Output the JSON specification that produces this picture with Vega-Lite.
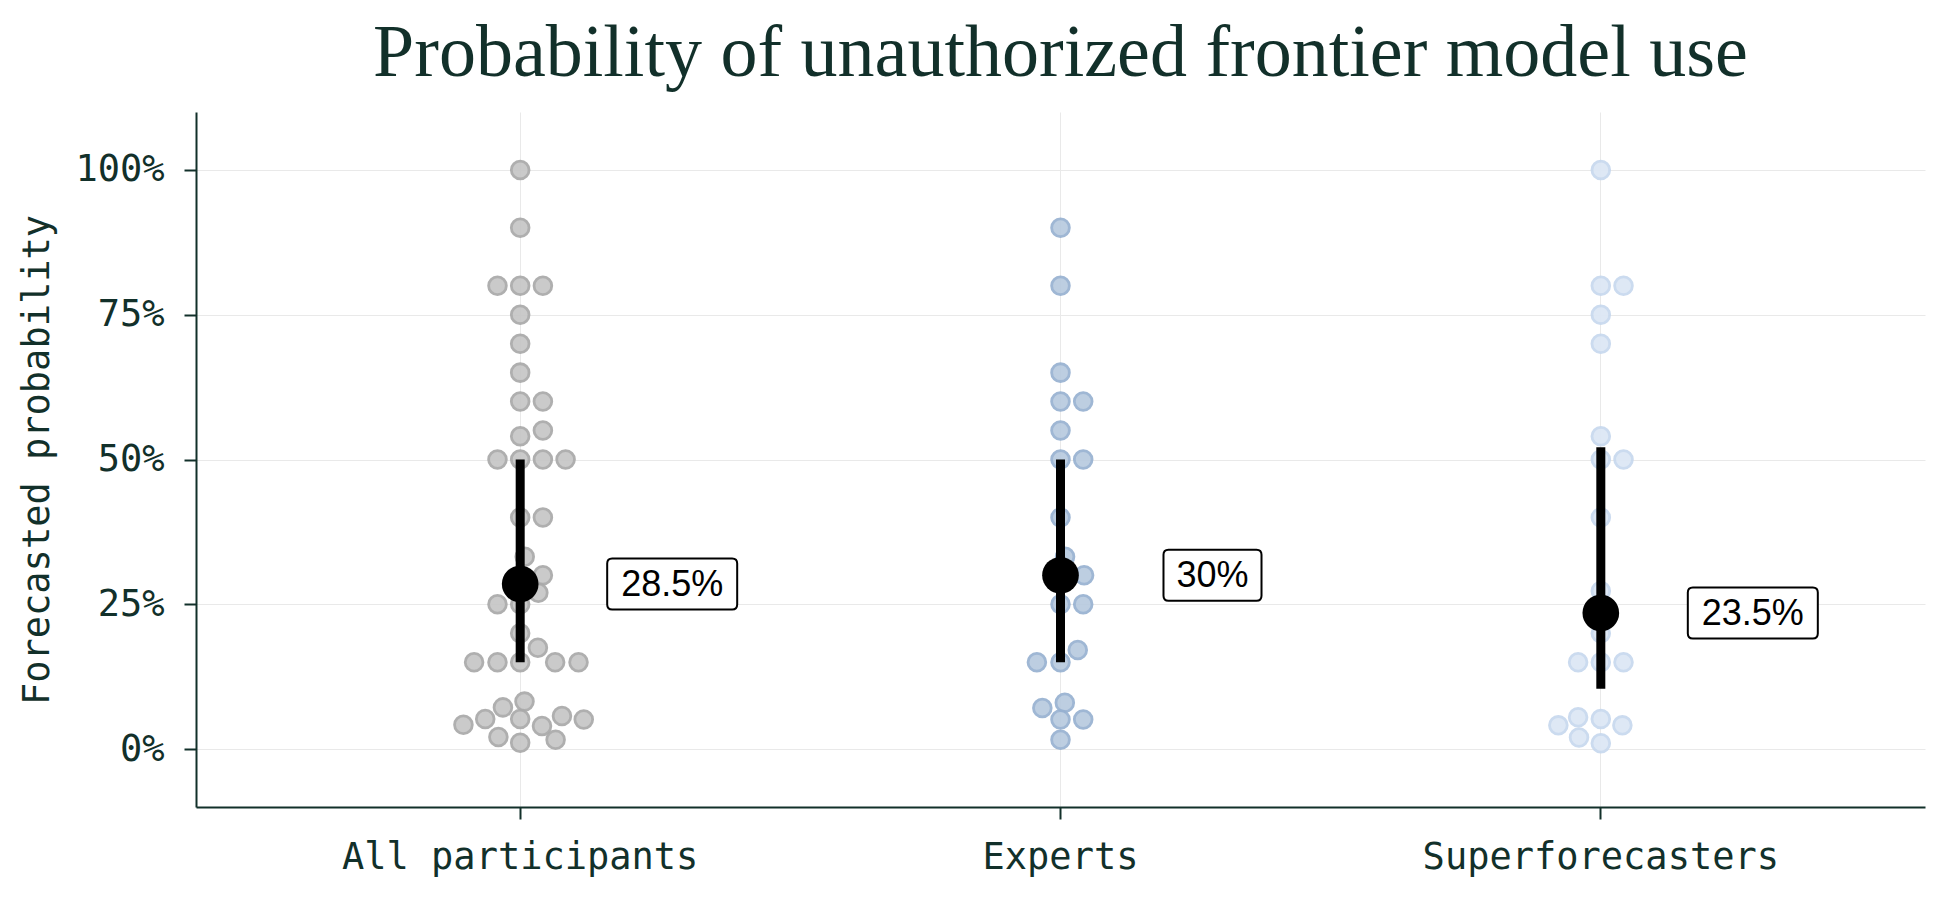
{
  "$schema": "https://vega.github.io/schema/vega-lite/v6.json",
  "width": 1729,
  "height": 695,
  "autosize": {"type": "none"},
  "padding": {"left": 196, "top": 112, "right": 25, "bottom": 93},
  "background": "white",
  "title": {
    "text": "Probability of unauthorized frontier model use",
    "font": "Liberation Serif",
    "fontSize": 74,
    "fontWeight": "normal",
    "color": "#12302a",
    "anchor": "middle",
    "offset": 20
  },
  "config": {"view": {"stroke": null}},
  "datasets": {
    "forecasts": [
      {"group": "All participants", "p": 1.00, "jitter": 0},
      {"group": "All participants", "p": 0.90, "jitter": 0},
      {"group": "All participants", "p": 0.80, "jitter": -1},
      {"group": "All participants", "p": 0.80, "jitter": 0},
      {"group": "All participants", "p": 0.80, "jitter": 1},
      {"group": "All participants", "p": 0.75, "jitter": 0},
      {"group": "All participants", "p": 0.70, "jitter": 0},
      {"group": "All participants", "p": 0.65, "jitter": 0},
      {"group": "All participants", "p": 0.60, "jitter": 0},
      {"group": "All participants", "p": 0.60, "jitter": 1},
      {"group": "All participants", "p": 0.55, "jitter": 1},
      {"group": "All participants", "p": 0.54, "jitter": 0},
      {"group": "All participants", "p": 0.50, "jitter": -1},
      {"group": "All participants", "p": 0.50, "jitter": 0},
      {"group": "All participants", "p": 0.50, "jitter": 1},
      {"group": "All participants", "p": 0.50, "jitter": 2},
      {"group": "All participants", "p": 0.40, "jitter": 0},
      {"group": "All participants", "p": 0.40, "jitter": 1},
      {"group": "All participants", "p": 0.332, "jitter": 0.2},
      {"group": "All participants", "p": 0.30, "jitter": 1},
      {"group": "All participants", "p": 0.27, "jitter": 0.8},
      {"group": "All participants", "p": 0.25, "jitter": -1},
      {"group": "All participants", "p": 0.25, "jitter": 0},
      {"group": "All participants", "p": 0.20, "jitter": 0},
      {"group": "All participants", "p": 0.175, "jitter": 0.78},
      {"group": "All participants", "p": 0.15, "jitter": -2.03},
      {"group": "All participants", "p": 0.15, "jitter": -1},
      {"group": "All participants", "p": 0.15, "jitter": 0},
      {"group": "All participants", "p": 0.15, "jitter": 1.54},
      {"group": "All participants", "p": 0.15, "jitter": 2.57},
      {"group": "All participants", "p": 0.082, "jitter": 0.19},
      {"group": "All participants", "p": 0.072, "jitter": -0.76},
      {"group": "All participants", "p": 0.052, "jitter": -1.54},
      {"group": "All participants", "p": 0.052, "jitter": 0},
      {"group": "All participants", "p": 0.057, "jitter": 1.84},
      {"group": "All participants", "p": 0.051, "jitter": 2.8},
      {"group": "All participants", "p": 0.042, "jitter": -2.5},
      {"group": "All participants", "p": 0.040, "jitter": 0.96},
      {"group": "All participants", "p": 0.021, "jitter": -0.96},
      {"group": "All participants", "p": 0.016, "jitter": 1.56},
      {"group": "All participants", "p": 0.011, "jitter": 0},
      {"group": "Experts", "p": 0.90, "jitter": 0},
      {"group": "Experts", "p": 0.80, "jitter": 0},
      {"group": "Experts", "p": 0.65, "jitter": 0},
      {"group": "Experts", "p": 0.60, "jitter": 0},
      {"group": "Experts", "p": 0.60, "jitter": 1},
      {"group": "Experts", "p": 0.55, "jitter": 0},
      {"group": "Experts", "p": 0.50, "jitter": 0},
      {"group": "Experts", "p": 0.50, "jitter": 1},
      {"group": "Experts", "p": 0.40, "jitter": 0},
      {"group": "Experts", "p": 0.332, "jitter": 0.2},
      {"group": "Experts", "p": 0.30, "jitter": 1.04},
      {"group": "Experts", "p": 0.25, "jitter": 0},
      {"group": "Experts", "p": 0.25, "jitter": 1},
      {"group": "Experts", "p": 0.171, "jitter": 0.76},
      {"group": "Experts", "p": 0.15, "jitter": -1.04},
      {"group": "Experts", "p": 0.15, "jitter": 0},
      {"group": "Experts", "p": 0.08, "jitter": 0.19},
      {"group": "Experts", "p": 0.071, "jitter": -0.8},
      {"group": "Experts", "p": 0.051, "jitter": 0},
      {"group": "Experts", "p": 0.051, "jitter": 1},
      {"group": "Experts", "p": 0.016, "jitter": 0},
      {"group": "Superforecasters", "p": 1.00, "jitter": 0},
      {"group": "Superforecasters", "p": 0.80, "jitter": 0},
      {"group": "Superforecasters", "p": 0.80, "jitter": 1},
      {"group": "Superforecasters", "p": 0.75, "jitter": 0},
      {"group": "Superforecasters", "p": 0.70, "jitter": 0},
      {"group": "Superforecasters", "p": 0.54, "jitter": 0},
      {"group": "Superforecasters", "p": 0.50, "jitter": 0},
      {"group": "Superforecasters", "p": 0.50, "jitter": 1},
      {"group": "Superforecasters", "p": 0.40, "jitter": 0},
      {"group": "Superforecasters", "p": 0.273, "jitter": 0},
      {"group": "Superforecasters", "p": 0.20, "jitter": 0},
      {"group": "Superforecasters", "p": 0.15, "jitter": -1},
      {"group": "Superforecasters", "p": 0.15, "jitter": 0},
      {"group": "Superforecasters", "p": 0.15, "jitter": 1},
      {"group": "Superforecasters", "p": 0.055, "jitter": -1},
      {"group": "Superforecasters", "p": 0.052, "jitter": 0},
      {"group": "Superforecasters", "p": 0.041, "jitter": -1.87},
      {"group": "Superforecasters", "p": 0.041, "jitter": 0.95},
      {"group": "Superforecasters", "p": 0.020, "jitter": -0.96},
      {"group": "Superforecasters", "p": 0.010, "jitter": 0}
    ],
    "summary": [
      {"group": "All participants", "median": 0.285, "low": 0.15, "high": 0.50, "label": "28.5%", "box": "wide"},
      {"group": "Experts", "median": 0.30, "low": 0.15, "high": 0.50, "label": "30%", "box": "narrow"},
      {"group": "Superforecasters", "median": 0.235, "low": 0.104, "high": 0.521, "label": "23.5%", "box": "wide"}
    ]
  },
  "encoding": {
    "x": {
      "field": "group",
      "type": "nominal",
      "sort": ["All participants", "Experts", "Superforecasters"],
      "scale": {
        "type": "band",
        "domain": ["All participants", "Experts", "Superforecasters"],
        "paddingInner": 0,
        "paddingOuter": 0.1
      },
      "axis": {
        "title": null,
        "labelAngle": 0,
        "labelLimit": 0,
        "bandPosition": 0.5,
        "grid": true,
        "gridColor": "#e9e9e9",
        "gridWidth": 1,
        "domainColor": "#12302a",
        "domainWidth": 2,
        "tickColor": "#12302a",
        "tickWidth": 2,
        "tickSize": 12,
        "labelFont": "DejaVu Sans Mono",
        "labelFontSize": 37,
        "labelColor": "#12302a",
        "labelPadding": 20
      }
    }
  },
  "layer": [
    {
      "data": {"name": "forecasts"},
      "mark": {"type": "point", "filled": true, "size": 314, "strokeWidth": 2.8, "opacity": 0.92},
      "encoding": {
        "xOffset": {"field": "jitter", "type": "quantitative", "scale": {"domain": [-11.9, 11.9]}},
        "y": {
          "field": "p",
          "type": "quantitative",
          "scale": {"domain": [-0.1, 1.1], "nice": false, "zero": false},
          "axis": {
            "title": "Forecasted probability",
            "values": [0, 0.25, 0.5, 0.75, 1],
            "format": ".0%",
            "grid": true,
            "gridColor": "#e9e9e9",
            "gridWidth": 1,
            "domainColor": "#12302a",
            "domainWidth": 2,
            "tickColor": "#12302a",
            "tickWidth": 2,
            "tickSize": 12,
            "labelFont": "DejaVu Sans Mono",
            "labelFontSize": 37,
            "labelColor": "#12302a",
            "labelPadding": 20,
            "titleFont": "DejaVu Sans Mono",
            "titleFontSize": 37,
            "titleFontWeight": "normal",
            "titleColor": "#12302a",
            "titlePadding": 18
          }
        },
        "fill": {
          "field": "group",
          "type": "nominal",
          "scale": {"domain": ["All participants", "Experts", "Superforecasters"], "range": ["#c6c6c6", "#b8cadf", "#dce7f5"]},
          "legend": null
        },
        "stroke": {
          "field": "group",
          "type": "nominal",
          "scale": {"domain": ["All participants", "Experts", "Superforecasters"], "range": ["#a9a9a9", "#97b1d1", "#c7d8ee"]},
          "legend": null
        }
      }
    },
    {
      "data": {"name": "summary"},
      "mark": {"type": "rule", "color": "black", "strokeWidth": 9},
      "encoding": {
        "y": {"field": "low", "type": "quantitative"},
        "y2": {"field": "high"}
      }
    },
    {
      "data": {"name": "summary"},
      "mark": {"type": "point", "filled": true, "size": 1345, "color": "black", "opacity": 1},
      "encoding": {
        "y": {"field": "median", "type": "quantitative"}
      }
    },
    {
      "data": {"name": "summary"},
      "mark": {"type": "point", "size": 16900, "fill": "white", "stroke": "black", "strokeWidth": 2, "opacity": 1, "fillOpacity": 1, "xOffset": 152},
      "encoding": {
        "y": {"field": "median", "type": "quantitative"},
        "shape": {
          "field": "box",
          "type": "nominal",
          "scale": {
            "domain": ["wide", "narrow"],
            "range": [
              "M -0.923 -0.392 L 0.923 -0.392 Q 1 -0.392 1 -0.315 L 1 0.315 Q 1 0.392 0.923 0.392 L -0.923 0.392 Q -1 0.392 -1 0.315 L -1 -0.315 Q -1 -0.392 -0.923 -0.392 Z",
              "M -0.677 -0.392 L 0.677 -0.392 Q 0.754 -0.392 0.754 -0.315 L 0.754 0.315 Q 0.754 0.392 0.677 0.392 L -0.677 0.392 Q -0.754 0.392 -0.754 0.315 L -0.754 -0.315 Q -0.754 -0.392 -0.677 -0.392 Z"
            ]
          },
          "legend": null
        }
      }
    },
    {
      "data": {"name": "summary"},
      "mark": {"type": "text", "font": "Liberation Sans", "fontSize": 36, "color": "black", "align": "center", "baseline": "middle", "xOffset": 152, "dy": 1},
      "encoding": {
        "y": {"field": "median", "type": "quantitative"},
        "text": {"field": "label"}
      }
    }
  ]
}
